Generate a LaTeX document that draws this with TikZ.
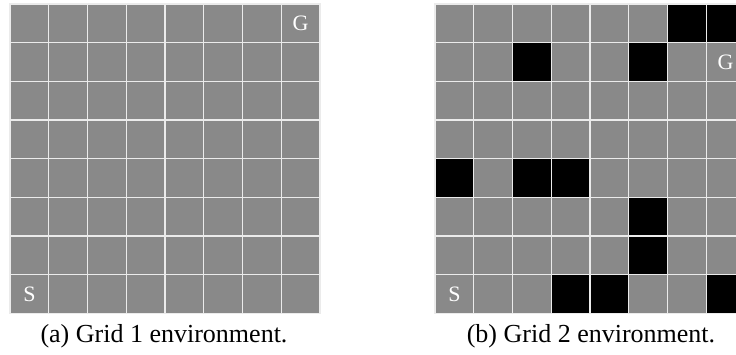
\documentclass[tikz,border=0pt]{standalone}
\usepackage{fontspec}
\setmainfont{Liberation Serif}
\definecolor{cellgray}{RGB}{137,137,137}
\definecolor{gridline}{RGB}{235,235,235}
\begin{document}
\begin{tikzpicture}[x=1pt,y=-1pt,
  cell/.style={fill=cellgray, draw=gridline, line width=1.2pt},
  wall/.style={fill=black, draw=gridline, line width=1.2pt},
  celllabel/.style={text=white, font=\fontsize{22}{22}\selectfont, inner sep=0pt},
  subcaption/.style={font=\fontsize{26}{26}\selectfont, inner sep=0pt}]
  \useasboundingbox (0,0) rectangle (736,354);
  \clip (0,0) rectangle (736,354);
  \def\cw{38.75}
  \def\ch{38.65}
  % Grid 1: open 8x8 field
  \foreach \r in {0,...,7}
    \foreach \c in {0,...,7}
      \path[cell] (10+\c*\cw, 4+\r*\ch) rectangle ++(\cw,\ch);
  \node[celllabel] (s1) at (10+0.5*\cw, 4+7.5*\ch) {S};
  \node[celllabel] (g1) at (10+7.5*\cw, 4+0.5*\ch) {G};
  % Grid 2: 8x8 field with walls
  \foreach \r in {0,...,7}
    \foreach \c in {0,...,7}
      \path[cell] (435+\c*\cw, 4+\r*\ch) rectangle ++(\cw,\ch);
  \foreach \r/\c in {0/6,0/7,1/2,1/5,4/0,4/2,4/3,5/5,6/5,7/3,7/4,7/7}
    \path[wall] (435+\c*\cw, 4+\r*\ch) rectangle ++(\cw,\ch);
  \node[celllabel] (s2) at (435+0.5*\cw, 4+7.5*\ch) {S};
  \node[celllabel] (g2) at (435+7.5*\cw, 4+1.5*\ch) {G};
  % Captions
  \node[subcaption] (capa) at (164,336) {(a) Grid 1 environment.};
  \node[subcaption] (capb) at (591,336) {(b) Grid 2 environment.};
\end{tikzpicture}
\end{document}
